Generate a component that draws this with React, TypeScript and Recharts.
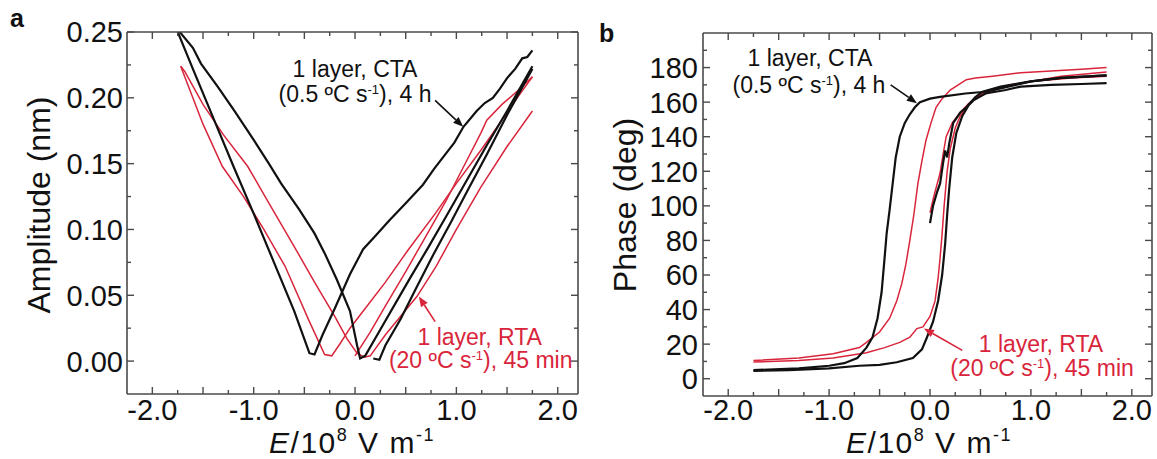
import React from 'react';
import { LineChart, Line, XAxis, YAxis, ReferenceLine, ReferenceDot } from 'recharts';

type Pt = [number, number];

const RED = '#d9253b';
const BLACK = '#111111';
const AXIS = '#4a4a4a';
const FONT = '"Liberation Sans", Arial, Helvetica, sans-serif';
const TICK_FS = 29;
const NOTE_FS = 23;

// E field axis, 10^8 V/m (shared by both panels)
const eTicks = [-2, -1.75, -1.5, -1.25, -1, -0.75, -0.5, -0.25, 0, 0.25, 0.5, 0.75, 1, 1.25, 1.5, 1.75, 2];
const eMajor = [-2, -1.5, -1, -0.5, 0, 0.5, 1, 1.5, 2];
const eLabels = [-2, -1, 0, 1, 2];

// panel a: amplitude (nm)
const ampTicks = [0, 0.025, 0.05, 0.075, 0.1, 0.125, 0.15, 0.175, 0.2, 0.225, 0.25];
const ampLabels = [0, 0.05, 0.1, 0.15, 0.2, 0.25];

// panel b: phase (deg)
const phaseTicks = [0, 10, 20, 30, 40, 50, 60, 70, 80, 90, 100, 110, 120, 130, 140, 150, 160, 170, 180, 190];
const phaseLabels = [0, 20, 40, 60, 80, 100, 120, 140, 160, 180];

// amplitude loops, 1 layer CTA (black)
const ampCtaInit: Pt[] = [
  [0.18, 0.002], [0.24, 0.001], [0.3, 0.012], [0.45, 0.032], [0.6, 0.055], [0.78, 0.082],
  [0.95, 0.106], [1.1, 0.128], [1.3, 0.157], [1.5, 0.187], [1.75, 0.222],
];
const ampCtaRev: Pt[] = [
  [1.75, 0.236], [1.7, 0.231], [1.65, 0.23], [1.58, 0.222], [1.5, 0.215], [1.43, 0.207], [1.36, 0.2],
  [1.28, 0.196], [1.2, 0.19], [1.07, 0.178], [0.98, 0.166], [0.9, 0.158], [0.78, 0.146], [0.67, 0.134],
  [0.5, 0.12], [0.34, 0.107], [0.2, 0.095], [0.08, 0.085], [-0.05, 0.066], [-0.2, 0.04],
  [-0.32, 0.02], [-0.4, 0.005], [-0.45, 0.006], [-0.6, 0.038], [-0.8, 0.075], [-1.0, 0.112],
  [-1.2, 0.148], [-1.4, 0.185], [-1.6, 0.222], [-1.76, 0.252],
];
const ampCtaFwd: Pt[] = [
  [-1.74, 0.251], [-1.6, 0.238], [-1.52, 0.226], [-1.35, 0.208], [-1.19, 0.19], [-1.0, 0.168],
  [-0.85, 0.15], [-0.73, 0.135], [-0.55, 0.115], [-0.4, 0.097], [-0.3, 0.082], [-0.18, 0.062],
  [-0.05, 0.038], [0.02, 0.012], [0.05, 0.002], [0.1, 0.004], [0.25, 0.024], [0.4, 0.044],
  [0.55, 0.064], [0.72, 0.086], [0.9, 0.11], [1.1, 0.137], [1.3, 0.164], [1.5, 0.19], [1.75, 0.224],
];

// amplitude loops, 1 layer RTA (red)
const ampRtaInit: Pt[] = [
  [0.0, 0.004], [0.15, 0.022], [0.3, 0.042], [0.5, 0.068], [0.7, 0.095], [0.9, 0.122], [1.1, 0.152],
  [1.24, 0.173], [1.3, 0.183], [1.45, 0.195], [1.6, 0.205], [1.75, 0.216],
];
const ampRtaRev: Pt[] = [
  [1.75, 0.216], [1.6, 0.2], [1.45, 0.183], [1.24, 0.16], [1.0, 0.135], [0.8, 0.113], [0.52, 0.084],
  [0.3, 0.06], [0.1, 0.04], [-0.05, 0.025], [-0.15, 0.013], [-0.23, 0.004], [-0.3, 0.005],
  [-0.45, 0.03], [-0.69, 0.072], [-0.9, 0.1], [-1.1, 0.125], [-1.31, 0.148], [-1.5, 0.18], [-1.72, 0.224],
];
const ampRtaFwd: Pt[] = [
  [-1.72, 0.224], [-1.68, 0.22], [-1.5, 0.195], [-1.3, 0.172], [-1.06, 0.148], [-0.85, 0.12],
  [-0.6, 0.087], [-0.4, 0.06], [-0.2, 0.034], [-0.08, 0.017], [0.02, 0.006], [0.09, 0.003],
  [0.15, 0.004], [0.3, 0.02], [0.45, 0.034], [0.61, 0.049], [0.8, 0.072], [1.0, 0.1], [1.24, 0.132],
  [1.5, 0.163], [1.75, 0.19],
];

// phase loops, 1 layer CTA (black)
const phCtaInit: Pt[] = [
  [0.0, 90], [0.03, 100], [0.07, 108], [0.1, 113], [0.13, 125], [0.15, 132], [0.17, 128], [0.19, 136],
  [0.23, 148], [0.3, 154], [0.36, 157], [0.45, 163], [0.52, 166], [0.7, 169], [1.0, 172], [1.3, 174],
  [1.75, 175.5],
];
const phCtaRev: Pt[] = [
  [1.75, 175.5], [1.3, 174], [1.0, 172], [0.7, 168], [0.55, 166], [0.35, 165], [0.1, 163], [0.0, 162],
  [-0.1, 160], [-0.15, 157], [-0.2, 153], [-0.25, 148], [-0.3, 140], [-0.34, 128], [-0.37, 113],
  [-0.4, 98], [-0.43, 84], [-0.45, 70], [-0.48, 50], [-0.52, 35], [-0.57, 24], [-0.63, 18],
  [-0.72, 12], [-0.85, 9], [-1.0, 7.5], [-1.3, 6], [-1.75, 5],
];
const phCtaFwd: Pt[] = [
  [-1.75, 4.5], [-1.4, 5], [-1.0, 6], [-0.7, 7.5], [-0.5, 8], [-0.33, 9.5], [-0.17, 12], [-0.08, 17],
  [-0.03, 24], [0.03, 33], [0.08, 45], [0.12, 60], [0.15, 78], [0.17, 95], [0.19, 110], [0.22, 128],
  [0.26, 142], [0.32, 152], [0.38, 158], [0.43, 161], [0.55, 165], [0.75, 167], [0.9, 169],
  [1.2, 170], [1.5, 170.5], [1.75, 171],
];

// phase loops, 1 layer RTA (red)
const phRtaInit: Pt[] = [
  [0.0, 96], [0.04, 106], [0.1, 119], [0.13, 130], [0.16, 140], [0.22, 148], [0.3, 154], [0.38, 159],
  [0.46, 163], [0.6, 167], [0.8, 170], [1.0, 172], [1.3, 175], [1.75, 177.5],
];
const phRtaRev: Pt[] = [
  [1.75, 180], [1.5, 179], [1.2, 178], [0.9, 177], [0.62, 175], [0.45, 174], [0.36, 173], [0.28, 170],
  [0.2, 167], [0.12, 162], [0.06, 157], [0.01, 148], [-0.04, 138], [-0.08, 126], [-0.12, 113],
  [-0.16, 95], [-0.2, 80], [-0.24, 66], [-0.28, 55], [-0.33, 45], [-0.4, 35], [-0.5, 27],
  [-0.63, 21], [-0.7, 18], [-0.96, 14.5], [-1.3, 12], [-1.75, 10.5],
];
const phRtaFwd: Pt[] = [
  [-1.75, 9.6], [-1.3, 10.5], [-0.96, 12], [-0.63, 15], [-0.45, 18], [-0.3, 21], [-0.2, 24],
  [-0.13, 29], [-0.07, 30], [0.0, 36], [0.05, 45], [0.08, 58], [0.1, 70], [0.12, 84], [0.14, 100],
  [0.17, 120], [0.2, 133], [0.25, 145], [0.3, 152], [0.36, 157], [0.46, 163], [0.6, 166],
  [0.72, 169], [1.0, 172], [1.4, 174], [1.75, 175],
];

const toRows = (pts: Pt[]) => pts.map(([x, y]) => ({ x, y }));
const has = (list: number[], v: number) => list.some((l) => Math.abs(l - v) < 1e-9);

type Side = 'left' | 'right' | 'top' | 'bottom';

function makeTick(side: Side, major: number[], labels: number[], fmt: (v: number) => string, gap: number) {
  return (p: any) => {
    const v = p.payload.value as number;
    const len = has(major, v) ? 7 : 4;
    const { x, y } = p;
    let line;
    let label = null;
    if (side === 'left') {
      line = <line x1={x} x2={x + len} y1={y} y2={y} stroke={AXIS} strokeWidth={1.4} />;
      if (has(labels, v)) {
        label = (
          <text x={x - gap} y={y} dy="0.36em" textAnchor="end" fontSize={TICK_FS} fill={BLACK} fontFamily={FONT}>
            {fmt(v)}
          </text>
        );
      }
    } else if (side === 'right') {
      line = <line x1={x} x2={x - len} y1={y} y2={y} stroke={AXIS} strokeWidth={1.4} />;
    } else if (side === 'top') {
      line = <line x1={x} x2={x} y1={y} y2={y + len} stroke={AXIS} strokeWidth={1.4} />;
    } else {
      line = <line x1={x} x2={x} y1={y} y2={y - len} stroke={AXIS} strokeWidth={1.4} />;
      if (has(labels, v)) {
        label = (
          <text x={x} y={y + gap} textAnchor="middle" fontSize={TICK_FS} fill={BLACK} fontFamily={FONT}>
            {fmt(v)}
          </text>
        );
      }
    }
    return (
      <g>
        {line}
        {label}
      </g>
    );
  };
}

const arrowShape = (color: string) => (p: any) => {
  const { x1, y1, x2, y2 } = p;
  const a = Math.atan2(y2 - y1, x2 - x1);
  const L = 10;
  const H = 4;
  const bx = x2 - L * Math.cos(a);
  const by = y2 - L * Math.sin(a);
  const pts = `${x2},${y2} ${bx + H * Math.sin(a)},${by - H * Math.cos(a)} ${bx - H * Math.sin(a)},${by + H * Math.cos(a)}`;
  return (
    <g>
      <line x1={x1} y1={y1} x2={bx} y2={by} stroke={color} strokeWidth={1.6} />
      <polygon points={pts} fill={color} />
    </g>
  );
};

const textShape = (content: React.ReactNode, color: string) => (p: any) => (
  <text x={p.cx} y={p.cy} textAnchor="middle" fontSize={NOTE_FS} fill={color} fontFamily={FONT}>
    {content}
  </text>
);

const ctaLine2 = (
  <>
    (0.5 ºC s<tspan fontSize={13} dy={-8}>-1</tspan>
    <tspan dy={8}>), 4 h</tspan>
  </>
);
const rtaLine2 = (
  <>
    (20 ºC s<tspan fontSize={13} dy={-8}>-1</tspan>
    <tspan dy={8}>), 45 min</tspan>
  </>
);

type Note = { x: number; y: number; content: React.ReactNode; color: string };
type Arrow = { from: [number, number]; to: [number, number]; color: string };

type PanelProps = {
  left: number;
  width: number;
  margin: { top: number; right: number; bottom: number; left: number };
  xGap: number;
  yDomain: [number, number];
  yTicks: number[];
  yMajor: number[];
  yLabels: number[];
  yFmt: (v: number) => string;
  yGap: number;
  black: Pt[][];
  red: Pt[][];
  notes: Note[];
  arrows: Arrow[];
};

// axes are 1px thick so Recharts still draws them; margins already account for it
function Panel(props: PanelProps) {
  const { left, width, margin, xGap, yDomain, yTicks, yMajor, yLabels, yFmt, yGap, black, red, notes, arrows } = props;
  const xFmt = (v: number) => v.toFixed(1);
  const axisLine = { stroke: AXIS, strokeWidth: 1.6 };
  return (
    <div style={{ position: 'absolute', left, top: 0 }}>
      <LineChart width={width} height={459} margin={margin}>
        <XAxis
          dataKey="x"
          type="number"
          domain={[-2.25, 2.2]}
          ticks={eTicks}
          interval={0}
          allowDataOverflow
          height={1}
          tickSize={0}
          tickMargin={0}
          tickLine={false}
          axisLine={axisLine}
          tick={makeTick('bottom', eMajor, eLabels, xFmt, xGap)}
        />
        <XAxis
          xAxisId="t"
          orientation="top"
          dataKey="x"
          type="number"
          domain={[-2.25, 2.2]}
          ticks={eTicks}
          interval={0}
          allowDataOverflow
          height={1}
          tickSize={0}
          tickMargin={0}
          tickLine={false}
          axisLine={axisLine}
          tick={makeTick('top', eMajor, [], xFmt, 0)}
        />
        <YAxis
          type="number"
          domain={yDomain}
          ticks={yTicks}
          interval={0}
          allowDataOverflow
          width={1}
          tickSize={0}
          tickMargin={0}
          tickLine={false}
          axisLine={axisLine}
          tick={makeTick('left', yMajor, yLabels, yFmt, yGap)}
        />
        <YAxis
          yAxisId="r"
          orientation="right"
          type="number"
          domain={yDomain}
          ticks={yTicks}
          interval={0}
          allowDataOverflow
          width={1}
          tickSize={0}
          tickMargin={0}
          tickLine={false}
          axisLine={axisLine}
          tick={makeTick('right', yMajor, [], yFmt, 0)}
        />
        {red.map((pts, i) => (
          <Line
            key={`r${i}`}
            data={toRows(pts)}
            dataKey="y"
            type="linear"
            stroke={RED}
            strokeWidth={1.5}
            dot={false}
            isAnimationActive={false}
          />
        ))}
        {black.map((pts, i) => (
          <Line
            key={`b${i}`}
            data={toRows(pts)}
            dataKey="y"
            type="linear"
            stroke={BLACK}
            strokeWidth={2.2}
            dot={false}
            isAnimationActive={false}
          />
        ))}
        {arrows.map((a, i) => (
          <ReferenceLine
            key={`a${i}`}
            segment={[
              { x: a.from[0], y: a.from[1] },
              { x: a.to[0], y: a.to[1] },
            ]}
            ifOverflow="visible"
            shape={arrowShape(a.color)}
          />
        ))}
        {notes.map((n, i) => (
          <ReferenceDot
            key={`n${i}`}
            x={n.x}
            y={n.y}
            r={0}
            ifOverflow="visible"
            shape={textShape(n.content, n.color)}
          />
        ))}
      </LineChart>
    </div>
  );
}

const titleStyle: React.CSSProperties = {
  position: 'absolute',
  fontFamily: FONT,
  fontSize: 30,
  color: BLACK,
  whiteSpace: 'nowrap',
  lineHeight: '33px',
};

const supStyle: React.CSSProperties = { fontSize: 18, verticalAlign: 12, lineHeight: 0 };

function XTitle({ cx }: { cx: number }) {
  return (
    <div style={{ ...titleStyle, left: cx, top: 426, letterSpacing: 1.5, transform: 'translateX(-50%)' }}>
      <i>E</i>/10<sup style={supStyle}>8</sup> V m<sup style={supStyle}>-1</sup>
    </div>
  );
}

function YTitle({ cx, cy, text }: { cx: number; cy: number; text: string }) {
  return (
    <div
      style={{
        ...titleStyle,
        fontSize: 32,
        lineHeight: 1,
        left: cx,
        top: cy,
        transform: 'translate(-50%, -50%) rotate(-90deg)',
      }}
    >
      {text}
    </div>
  );
}

export default function App() {
  return (
    <div style={{ position: 'absolute', left: 0, top: 0, width: 1157, height: 459, background: '#fff', overflow: 'hidden' }}>
      <Panel
        left={0}
        width={600}
        margin={{ top: 31, right: 21, bottom: 64, left: 126 }}
        xGap={26}
        yDomain={[-0.025, 0.25]}
        yTicks={ampTicks}
        yMajor={ampLabels}
        yLabels={ampLabels}
        yFmt={(v) => v.toFixed(2)}
        yGap={4}
        black={[ampCtaInit, ampCtaRev, ampCtaFwd]}
        red={[ampRtaInit, ampRtaRev, ampRtaFwd]}
        notes={[
          { x: 0.0, y: 0.216, content: '1 layer, CTA', color: BLACK },
          { x: 0.0, y: 0.197, content: ctaLine2, color: BLACK },
          { x: 1.23, y: 0.0125, content: '1 layer, RTA', color: RED },
          { x: 1.24, y: -0.0053, content: rtaLine2, color: RED },
        ]}
        arrows={[
          { from: [0.79, 0.198], to: [1.067, 0.178], color: BLACK },
          { from: [0.79, 0.03], to: [0.63, 0.049], color: RED },
        ]}
      />
      <Panel
        left={580}
        width={577}
        margin={{ top: 32, right: 4, bottom: 62, left: 122 }}
        xGap={24}
        yDomain={[-10, 200]}
        yTicks={phaseTicks}
        yMajor={phaseLabels}
        yLabels={phaseLabels}
        yFmt={(v) => String(v)}
        yGap={5}
        black={[phCtaInit, phCtaRev, phCtaFwd]}
        red={[phRtaInit, phRtaRev, phRtaFwd]}
        notes={[
          { x: -1.19, y: 181, content: '1 layer, CTA', color: BLACK },
          { x: -1.2, y: 165.5, content: ctaLine2, color: BLACK },
          { x: 1.1, y: 15.5, content: '1 layer, RTA', color: RED },
          { x: 1.11, y: 1.3, content: rtaLine2, color: RED },
        ]}
        arrows={[
          { from: [-0.39, 170], to: [-0.13, 159.4], color: BLACK },
          { from: [0.32, 16.4], to: [-0.06, 29], color: RED },
        ]}
      />
      <XTitle cx={352} />
      <XTitle cx={929} />
      <YTitle cx={39} cy={205} text="Amplitude (nm)" />
      <YTitle cx={625} cy={205} text="Phase (deg)" />
      <div style={{ ...titleStyle, fontSize: 25, fontWeight: 'bold', lineHeight: 1, left: 10, top: 6 }}>a</div>
      <div style={{ ...titleStyle, fontSize: 25, fontWeight: 'bold', lineHeight: 1, left: 599, top: 21 }}>b</div>
    </div>
  );
}
